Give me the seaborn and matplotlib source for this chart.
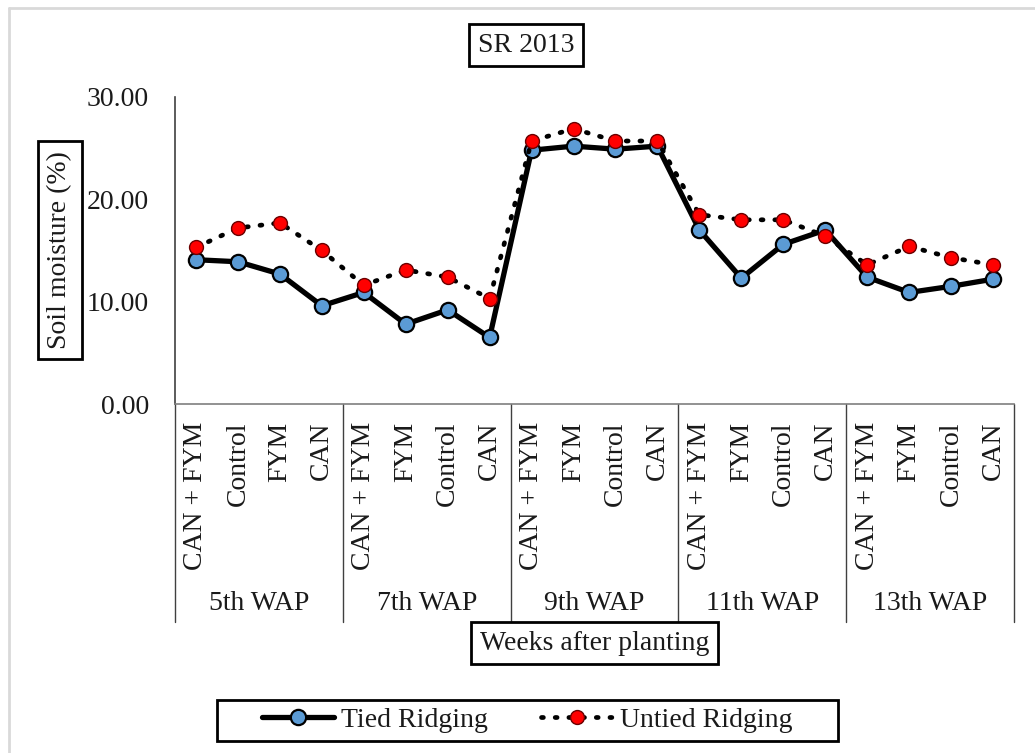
import numpy as np
import pandas as pd
import matplotlib
matplotlib.use("Agg")
import matplotlib.pyplot as plt
import matplotlib.transforms as mtransforms
from matplotlib.lines import Line2D
from matplotlib.patches import Rectangle
import seaborn as sns

# ---- data ----
weeks = ["5th WAP", "7th WAP", "9th WAP", "11th WAP", "13th WAP"]
treatments = [
    ["CAN + FYM", "Control", "FYM", "CAN"],
    ["CAN + FYM", "FYM", "Control", "CAN"],
    ["CAN + FYM", "FYM", "Control", "CAN"],
    ["CAN + FYM", "FYM", "Control", "CAN"],
    ["CAN + FYM", "FYM", "Control", "CAN"],
]
tied = [14.1, 13.9, 12.7, 9.6,
        10.9, 7.8, 9.2, 6.5,
        24.8, 25.2, 24.9, 25.2,
        17.0, 12.3, 15.6, 17.0,
        12.4, 10.9, 11.5, 12.2]
untied = [15.3, 17.2, 17.7, 15.0,
          11.6, 13.1, 12.4, 10.3,
          25.7, 26.9, 25.7, 25.7,
          18.5, 18.0, 18.0, 16.4,
          13.6, 15.4, 14.3, 13.6]
series_names = ["Tied Ridging", "Untied Ridging"]
y_ticks = [0, 10, 20, 30]

cat_labels = [t for grp in treatments for t in grp]
pos = np.arange(len(cat_labels))
df_t = pd.DataFrame({"x": pos, "y": tied})
df_u = pd.DataFrame({"x": pos, "y": untied})

sns.set_theme(style="white")
plt.rcParams["font.family"] = ["Liberation Serif", "DejaVu Serif"]
FS = 20
TXT = "#1a1a1a"

W, H = 1035, 753
fig = plt.figure(figsize=(W / 100, H / 100), dpi=100)
fig.patch.set_facecolor("white")

def fx(px):
    return px / W

def fy(py):
    return 1 - py / H

ax_l, ax_r, ax_t, ax_b = 175, 1014, 97, 404
ax = fig.add_axes([fx(ax_l), fy(ax_b), fx(ax_r - ax_l), (ax_b - ax_t) / H])
ax.set_facecolor("white")

sns.lineplot(data=df_t, x="x", y="y", ax=ax, color="black", linewidth=3.8,
             marker="o", markersize=11, markerfacecolor="#5B9BD5",
             markeredgecolor="black", markeredgewidth=1.6, zorder=3)
sns.lineplot(data=df_u, x="x", y="y", ax=ax, color="black", linewidth=3.4,
             linestyle=(0, (0.4, 2.5)), dash_capstyle="round",
             marker="o", markersize=10, markerfacecolor="red",
             markeredgecolor="#6a0000", markeredgewidth=1.0, zorder=4)

ax.set_xlim(-0.5, len(cat_labels) - 0.5)
ax.set_ylim(0, 30)
ax.set_yticks(y_ticks)
ax.set_yticklabels([f"{v:.2f}" for v in y_ticks], fontsize=FS, color=TXT)
ax.set_xticks(pos)
ax.set_xticklabels(cat_labels, rotation=90, fontsize=FS, color=TXT)
ax.tick_params(axis="both", length=0)
ax.tick_params(axis="y", pad=26 * 0.72)
ax.tick_params(axis="x", pad=18 * 0.72)
ax.set_xlabel("")
ax.set_ylabel("")
for s in ["top", "right"]:
    ax.spines[s].set_visible(False)
ax.spines["left"].set_color("#404040")
ax.spines["left"].set_linewidth(1.2)
ax.spines["bottom"].set_color("#7f7f7f")
ax.spines["bottom"].set_linewidth(1.2)
ax.grid(False)

# group divider lines and group labels
trans_lines = mtransforms.blended_transform_factory(ax.transData, ax.transAxes)
bottom_frac = -(622 - ax_b) / (ax_b - ax_t)
n_per = len(treatments[0])
for i in range(len(weeks) + 1):
    xb = i * n_per - 0.5
    ax.add_line(Line2D([xb, xb], [0, bottom_frac], transform=trans_lines,
                       color="#404040", linewidth=1.0, clip_on=False))
trans_lbl = mtransforms.blended_transform_factory(ax.transData, fig.transFigure)
for i, w in enumerate(weeks):
    xc = i * n_per + (n_per - 1) / 2
    fig.text(xc, fy(604), w, transform=trans_lbl, ha="center", va="center",
             fontsize=FS, color=TXT)

box = dict(boxstyle="square,pad=0.3", facecolor="white", edgecolor="black", linewidth=2)
fig.text(fx(526), fy(45), "SR 2013", ha="center", va="center", fontsize=FS,
         color=TXT, bbox=box)
fig.text(fx(60), fy(250), "Soil moisture (%)", rotation=90, ha="center", va="center",
         fontsize=FS, color=TXT, bbox=dict(boxstyle="square,pad=0.35", facecolor="white",
                                           edgecolor="black", linewidth=2))
fig.text(fx(594.5), fy(643), "Weeks after planting", ha="center", va="center",
         fontsize=FS, color=TXT, bbox=box)

# legend
h_t = Line2D([], [], color="black", linewidth=3.8, marker="o", markersize=11,
             markerfacecolor="#5B9BD5", markeredgecolor="black", markeredgewidth=1.6)
h_u = Line2D([], [], color="black", linewidth=3.4, linestyle=(0, (0.4, 2.5)),
             dash_capstyle="round", marker="o", markersize=10,
             markerfacecolor="red", markeredgecolor="#6a0000", markeredgewidth=1.0)
leg = fig.legend([h_t, h_u], series_names, loc="center", bbox_to_anchor=(fx(527), fy(720)),
                 ncol=2, frameon=False, fontsize=FS, handlelength=2.6, handletextpad=0.25,
                 columnspacing=1.9, borderpad=0.2)
for t in leg.get_texts():
    t.set_color(TXT)
fig.add_artist(Rectangle((fx(217), fy(741)), fx(838 - 217), (741 - 700) / H,
                         transform=fig.transFigure, fill=False, edgecolor="black",
                         linewidth=2))

# light-grey outer border (top and left)
fig.add_artist(Line2D([fx(9), 1], [fy(8), fy(8)], transform=fig.transFigure,
                      color="#d9d9d9", linewidth=2))
fig.add_artist(Line2D([fx(9), fx(9)], [fy(8), 0], transform=fig.transFigure,
                      color="#d9d9d9", linewidth=2))

fig.savefig("out.png", dpi=100, facecolor="white")
